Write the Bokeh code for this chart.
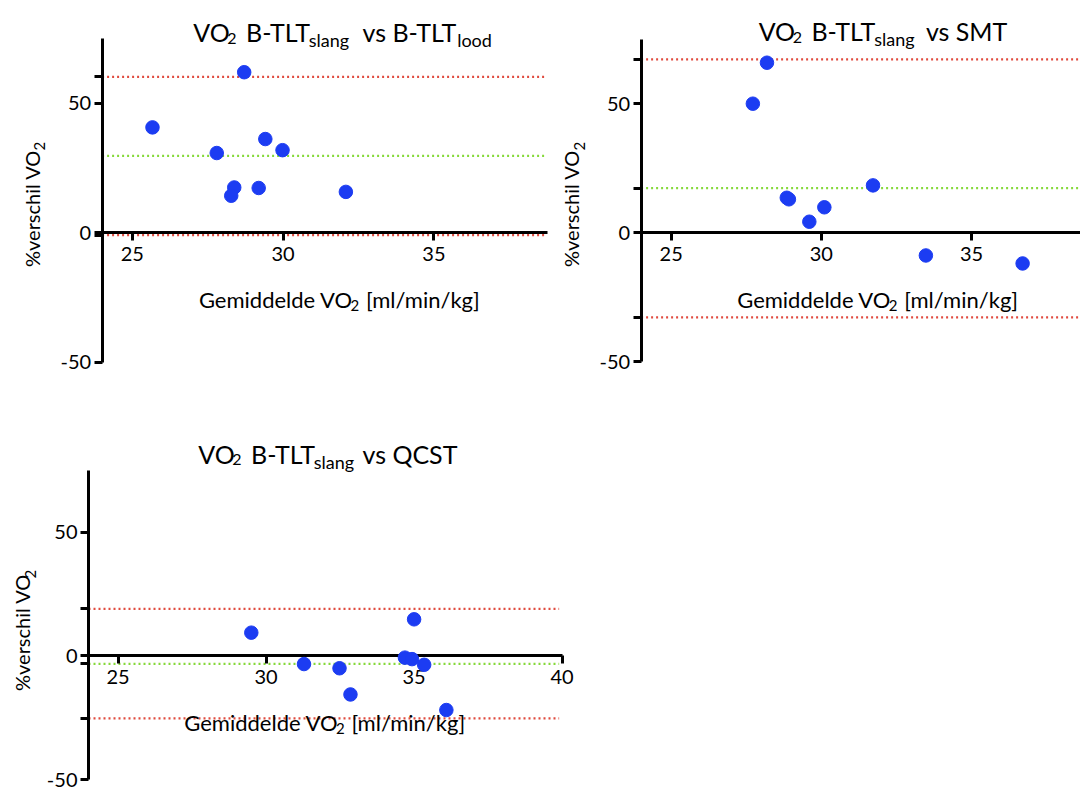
import math
from bokeh.plotting import figure
from bokeh.models import Range1d, FixedTicker, Label
from bokeh.layouts import column, row
from bokeh.embed import file_html
from bokeh.resources import INLINE

# ---------------- data ----------------
# Panel 1: VO2 B-TLT slang vs B-TLT lood
p1_mean = [25.67, 28.71, 27.80, 29.41, 29.98, 28.38, 28.28, 29.19, 32.08]
p1_diff = [40.7, 62.0, 30.8, 36.2, 31.9, 17.5, 14.3, 17.3, 15.8]
p1_bias = 29.7
p1_upper = 60.2
p1_lower = -0.9

# Panel 2: VO2 B-TLT slang vs SMT
p2_mean = [28.19, 27.72, 28.85, 28.92, 29.60, 30.10, 31.72, 33.48, 36.70]
p2_diff = [66.0, 50.1, 13.6, 13.0, 4.3, 9.9, 18.4, -8.8, -11.9]
p2_bias = 17.3
p2_upper = 67.3
p2_lower = -32.8

# Panel 3: VO2 B-TLT slang vs QCST
p3_mean = [29.50, 35.00, 31.28, 32.48, 32.85, 34.69, 34.93, 35.34, 36.09]
p3_diff = [9.4, 14.8, -3.3, -5.0, -15.6, -0.7, -1.3, -3.6, -21.9]
p3_bias = -3.2
p3_upper = 19.0
p3_lower = -25.3

y_ticks = [-50, 0, 50]
y_tick_labels = {-50: "-50", 0: "0", 50: "50"}
x_ticks_top = [25, 30, 35]
x_ticks_bottom = [25, 30, 35, 40]

# title / label pieces: (text, kind, anchor offset in px from text start, align)
# kind: 0 = normal, 1 = subscript, 2 = small subscript digit
title_common = [("VO", 0, 16, "center"), ("2", 2, 36.5, "center"),
                ("B-TLT", 0, 82.5, "center"), ("slang", 1, 133.5, "center")]
title_p1 = title_common + [("vs B-TLT", 0, 167, "left"), ("lood", 1, 279, "center")]
title_p2 = title_common + [("vs SMT", 0, 165, "left")]
title_p3 = title_common + [("vs QCST", 0, 162, "left")]
xlabel_parts = [("Gemiddelde VO", 0, 74, "center"), ("2", 1, 153, "center"),
                ("[ml/min/kg]", 0, 221, "center")]
ylabel_main = "%verschil VO"
ylabel_sub = "2"

# ---------------- styling ----------------
FONT = "Lato"
BLUE = "#1c3cf2"
RED = "#e04b3f"
GREEN = "#86d93a"


def make_panel(xs, ys, bias, upper, lower, minor, xt, x_axis_end, line_end, g):
    W, H, ox, oy, c0, ppx, r0, ppy = (g[k] for k in
                                      ("W", "H", "ox", "oy", "c0", "ppx", "r0", "ppy"))

    def X(px):  # page pixel -> data x
        return 24 + (px - ox - c0) / ppx

    def Y(py):  # page pixel -> data y
        return (r0 - (py - oy)) / ppy

    p = figure(width=W, height=H,
               x_range=Range1d(X(ox), X(ox + W)), y_range=Range1d(Y(oy + H), Y(oy)),
               output_backend="svg", toolbar_location=None,
               min_border_left=0, min_border_right=0, min_border_top=0,
               min_border_bottom=0)
    p.outline_line_color = None
    p.grid.visible = False
    p.background_fill_color = "white"
    p.border_fill_color = "white"

    for loc, col in ((upper, RED), (lower, RED), (bias, GREEN)):
        p.segment(x0=[24], y0=[loc], x1=[line_end], y1=[loc], line_color=col,
                  line_width=2.3, line_dash="2 3")

    r = p.scatter(xs, ys, size=13.5, color=BLUE, line_color=BLUE)
    r.level = "annotation"

    xa = p.xaxis[0]
    xa.fixed_location = 0
    xa.bounds = (24, x_axis_end)
    xa.ticker = FixedTicker(ticks=xt)
    ya = p.yaxis[0]
    ya.fixed_location = 24
    ya.bounds = (-50, 75)
    ya.ticker = FixedTicker(ticks=y_ticks, minor_ticks=minor)
    ya.major_label_overrides = y_tick_labels
    for ax in (xa, ya):
        ax.axis_line_width = 3
        ax.axis_line_color = "black"
        ax.major_tick_line_width = 3
        ax.major_tick_line_color = "black"
        ax.major_tick_out = 8
        ax.major_tick_in = 0
        ax.minor_tick_line_width = 3
        ax.minor_tick_line_color = "black"
        ax.minor_tick_out = 8
        ax.minor_tick_in = 0
        ax.major_label_text_font = FONT
        ax.major_label_text_font_size = "20px"
        ax.major_label_text_color = "black"
    xa.minor_tick_out = 0
    xa.major_label_standoff = 6
    ya.major_label_standoff = 3

    def pieces(parts, start_px, base_px, sizes, drops):
        for text, kind, cx, align in parts:
            p.add_layout(Label(
                x=X(start_px + cx), y=Y(base_px + drops[kind]), text=text,
                text_font=FONT, text_font_size=f"{sizes[kind]}px",
                text_color="black", text_align=align, text_baseline="alphabetic"))

    pieces(g["title"], g["title_x"], g["title_base"], (25, 18, 16), (0, 8, 6))
    pieces(xlabel_parts, g["xlab_x"], g["xlab_base"], (22, 15, 15), (0, 6, 6))

    # rotated y label
    p.add_layout(Label(x=X(g["ylab_x"]), y=Y(g["ylab_cy"]), text=ylabel_main,
                       angle=math.pi / 2, text_font=FONT, text_font_size="20px",
                       text_color="black", text_align="center", text_baseline="middle"))
    p.add_layout(Label(x=X(g["ylab_x"] + 8), y=Y(g["ylab_sub"]), text=ylabel_sub,
                       angle=math.pi / 2, text_font=FONT, text_font_size="15px",
                       text_color="black", text_align="left", text_baseline="middle"))
    return p


g1 = dict(W=560, H=400, ox=0, oy=0, c0=101.6, ppx=30.17, r0=232.3, ppy=2.59,
          title=title_p1, title_x=195, title_base=31.7,
          xlab_x=201.4, xlab_base=299, ylab_x=31, ylab_cy=208, ylab_sub=150)
g2 = dict(W=520, H=400, ox=560, oy=0, c0=80.6, ppx=30.04, r0=232.3, ppy=2.577,
          title=title_p2, title_x=760.4, title_base=30.7,
          xlab_x=739.7, xlab_base=299, ylab_x=570.7, ylab_cy=208, ylab_sub=150)
g3 = dict(W=580, H=393, ox=0, oy=400, c0=88, ppx=29.6, r0=255.4, ppy=2.472,
          title=title_p3, title_x=200, title_base=453.3,
          xlab_x=186.8, xlab_base=721.5, ylab_x=21.8, ylab_cy=632, ylab_sub=578)

p1 = make_panel(p1_mean, p1_diff, p1_bias, p1_upper, p1_lower, [p1_upper, p1_lower],
                x_ticks_top, 38.75, 38.75, g1)
p2 = make_panel(p2_mean, p2_diff, p2_bias, p2_upper, p2_lower,
                [p2_upper, p2_bias, p2_lower], x_ticks_top, 40, 40, g2)
p3 = make_panel(p3_mean, p3_diff, p3_bias, p3_upper, p3_lower,
                [p3_upper, p3_bias, p3_lower], x_ticks_bottom, 40, 39.9, g3)

layout = column(row(p1, p2), p3)
open("out.html", "w").write(file_html(layout, INLINE))
